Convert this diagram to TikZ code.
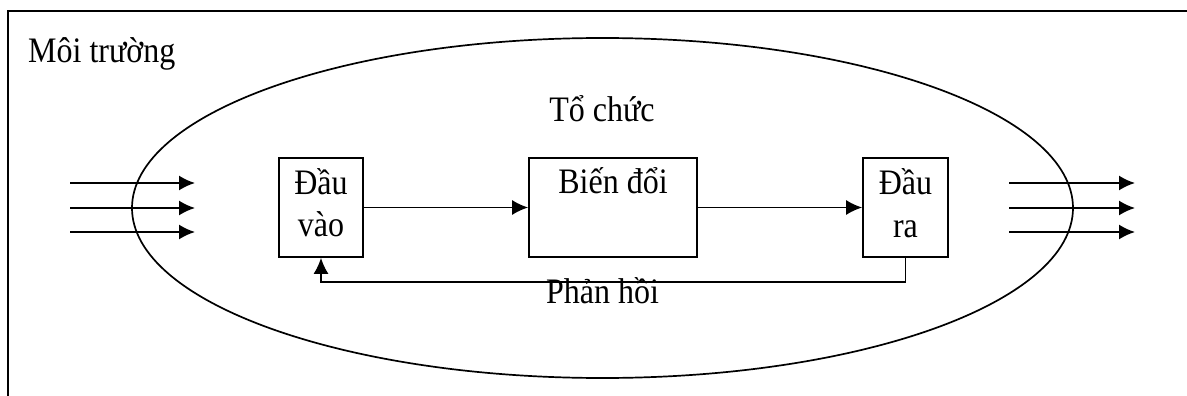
\documentclass[tikz,border=0pt]{standalone}
\usepackage{fontspec}
\setmainfont{Liberation Serif}
\usetikzlibrary{arrows.meta,shapes.geometric}
\begin{document}
\begin{tikzpicture}[x=1pt,y=-1pt,
  line/.style={line width=1.7pt},
  arr/.style={line width=1.7pt,-{Latex[length=16pt,width=15pt]}},
  boxnode/.style={draw,line width=1.7pt,inner sep=0pt},
  lbl/.style={inner sep=0pt,anchor=base,font=\fontsize{32}{36}\selectfont,yscale=1.12}]
\useasboundingbox (0,0) rectangle (1187,396);
% frame
\coordinate (ftl) at (8,11);
\coordinate (ftr) at (1187,11);
\coordinate (fbl) at (8,396);
\draw[line] (ftr) -- (ftl) -- (fbl);
\node[lbl,anchor=base west] (env) at (28,63) {Môi trường};
% ellipse
\node[draw,line width=1.7pt,ellipse,minimum width=941pt,minimum height=340pt,inner sep=0pt] (org) at (602.5,208) {};
\node[lbl] (orgt) at (602,121) {Tổ chức};
% boxes
\node[boxnode,minimum width=84pt,minimum height=99pt] (in) at (321,207.5) {};
\node[lbl] (in1) at (321,194) {Đầu};
\node[lbl] (in2) at (321,236) {vào};
\node[boxnode,minimum width=168pt,minimum height=99pt] (tr) at (613,207.5) {};
\node[lbl] (tr1) at (613,193) {Biến đổi};
\node[boxnode,minimum width=85pt,minimum height=99pt] (out) at (905.5,207.5) {};
\node[lbl] (out1) at (905.5,194) {Đầu};
\node[lbl] (out2) at (905.5,237) {ra};
% connectors
\draw[arr] (in.east) -- (tr.west);
\draw[arr] (tr.east) -- (out.west);
\draw[arr] (out.south) -- ++(0,24) -| (in.south);
\node[lbl] (fb) at (602.5,303) {Phản hồi};
% inputs
\foreach \y [count=\i] in {183,208,232}{
  \coordinate (ia\i) at (70,\y);
  \coordinate (ib\i) at (195,\y);
  \draw[arr] (ia\i) -- (ib\i);
  \coordinate (oa\i) at (1009,\y);
  \coordinate (ob\i) at (1135,\y);
  \draw[arr] (oa\i) -- (ob\i);
}
\end{tikzpicture}
\end{document}
